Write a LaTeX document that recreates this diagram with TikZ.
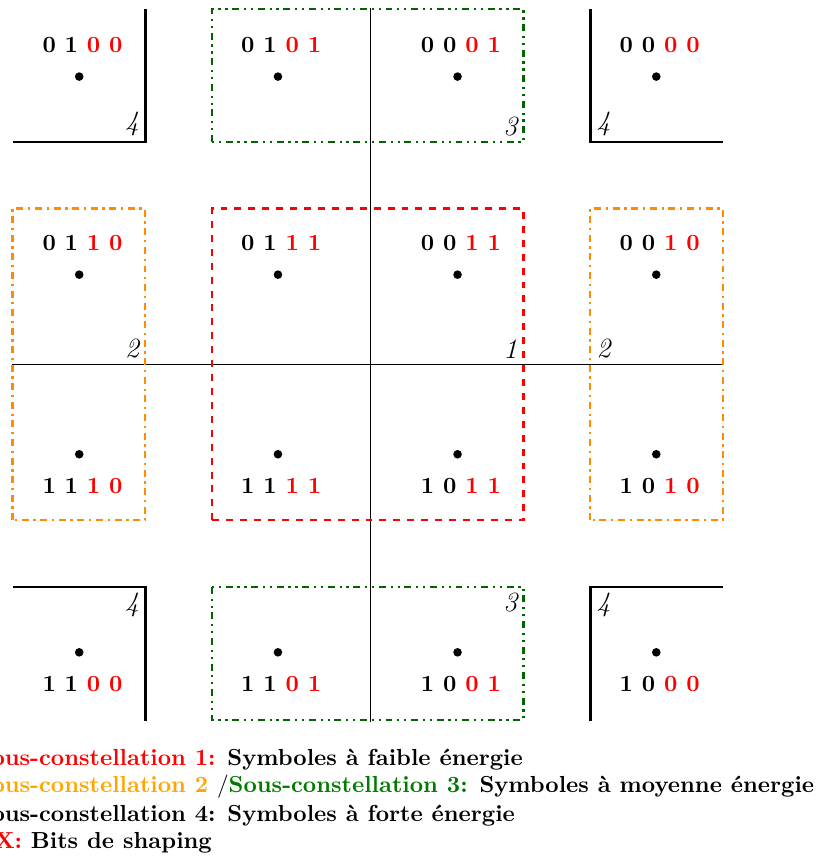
\documentclass[tikz,border=0pt]{standalone}
\usepackage{tikz}
\usetikzlibrary{positioning}
\usepackage{xcolor}
\definecolor{cOrange}{HTML}{FF8C00}
\definecolor{cOrangeTxt}{HTML}{FFA500}
\definecolor{cGreen}{HTML}{006400}
\definecolor{cGreenTxt}{HTML}{007A00}
\tikzset{
  dot/.style={circle, fill=black, inner sep=0pt, minimum size=0.13cm},
  bits/.style={font=\bfseries, inner sep=0pt, xshift=0.05cm},
  sublbl/.style={font=\large\itshape, inner sep=2.5pt},
  axis/.style={line width=0.75pt},
  hard/.style={very thick},
  sub1/.style={draw=red, line width=1pt, dashed},
  sub2/.style={draw=cOrange, line width=1pt, dashdotted},
  sub3/.style={draw=cGreen, line width=1pt, dashdotdotted},
  legend/.style={font=\bfseries, anchor=base west, inner sep=0pt},
}

\begin{document}
\begin{tikzpicture}
    \useasboundingbox (-5.57,-7.46) rectangle (6.78,5.52);
    % axes
    \draw[axis] (0.04,-5.42) -- (0.04,5.40);
    \draw[axis] (-5.39,0) -- (5.37,0);
    % sous-constellations 1, 2, 3
    \draw[sub1] (-2.36,-2.36) rectangle (2.36,2.36);
    \draw[sub2] (-5.38,-2.36) rectangle (-3.37,2.36);
    \draw[sub2] (3.37,-2.36) rectangle (5.38,2.36);
    \draw[sub3] (-2.36,3.37) rectangle (2.36,5.38);
    \draw[sub3] (-2.36,-3.37) rectangle (2.36,-5.38);
    % sous-constellation 4 (coins)
    \draw[hard] (-5.38,3.37) -- (-3.37,3.37) -- (-3.37,5.38);
    \draw[hard] (3.37,5.38) -- (3.37,3.37) -- (5.38,3.37);
    \draw[hard] (-5.38,-3.37) -- (-3.37,-3.37) -- (-3.37,-5.40);
    \draw[hard] (5.38,-3.37) -- (3.37,-3.37) -- (3.37,-5.40);
    \node[sublbl, anchor=south east] (n1) at (2.36,0) {1};
    \node[sublbl, anchor=south east] (n2w) at (-3.37,0) {2};
    \node[sublbl, anchor=south west] (n2e) at (3.37,0) {2};
    \node[sublbl, anchor=south east] (n3n) at (2.36,3.37) {3};
    \node[sublbl, anchor=north east] (n3s) at (2.36,-3.37) {3};
    \node[sublbl, anchor=south east] (n4nw) at (-3.37,3.37) {4};
    \node[sublbl, anchor=south west] (n4ne) at (3.37,3.37) {4};
    \node[sublbl, anchor=north east] (n4sw) at (-3.37,-3.37) {4};
    \node[sublbl, anchor=north west] (n4se) at (3.37,-3.37) {4};
    % symboles
    \foreach \x/\y/\ba/\bb/\bc/\bd in {-4.37/4.36/0/1/0/0, -1.36/4.36/0/1/0/1,
      1.36/4.36/0/0/0/1, 4.37/4.36/0/0/0/0, -4.37/1.36/0/1/1/0, -1.36/1.36/0/1/1/1,
      1.36/1.36/0/0/1/1, 4.37/1.36/0/0/1/0}
    {
      \node[dot] (p\ba\bb\bc\bd) at (\x,\y) {};
      \node[bits, above=2.8mm of p\ba\bb\bc\bd] (b\ba\bb\bc\bd)
        {\ba\ \bb\ \textcolor{red}{\bc\ \bd}};
    }
    \foreach \x/\y/\ba/\bb/\bc/\bd in {-4.37/-1.36/1/1/1/0, -1.36/-1.36/1/1/1/1,
      1.36/-1.36/1/0/1/1, 4.37/-1.36/1/0/1/0, -4.37/-4.36/1/1/0/0, -1.36/-4.36/1/1/0/1,
      1.36/-4.36/1/0/0/1, 4.37/-4.36/1/0/0/0}
    {
      \node[dot] (p\ba\bb\bc\bd) at (\x,\y) {};
      \node[bits, below=2.8mm of p\ba\bb\bc\bd] (b\ba\bb\bc\bd)
        {\ba\ \bb\ \textcolor{red}{\bc\ \bd}};
    }
    % legende
    \node[legend] (leg1) at (-5.93,-6.07)
      {\textcolor{red}{Sous-constellation 1:} Symboles à faible énergie};
    \node[legend] (leg2) at (-5.93,-6.49)
      {\textcolor{cOrangeTxt}{Sous-constellation 2} $/$\textcolor{cGreenTxt}{Sous-constellation 3:}
       Symboles à moyenne énergie};
    \node[legend] (leg3) at (-5.93,-6.92) {Sous-constellation 4: Symboles à forte énergie};
    \node[legend] (leg4) at (-5.66,-7.33) {\textcolor{red}{X:} Bits de shaping};
  \end{tikzpicture}
\end{document}
